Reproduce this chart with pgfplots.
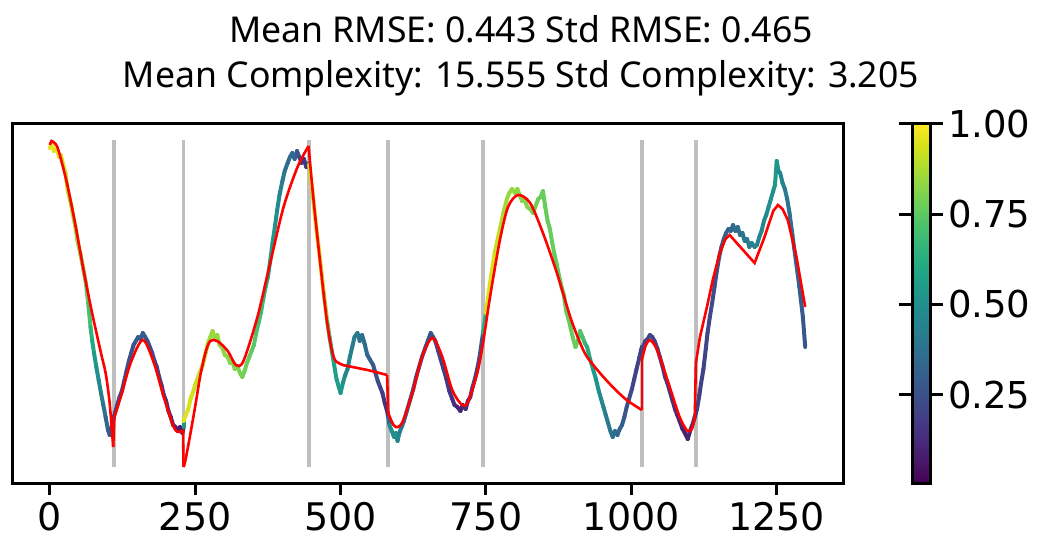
\documentclass[border=0pt]{standalone}
\usepackage{fontspec}
\setmainfont{DejaVu Sans}
\newfontfamily\titlefont{Noto Sans}
\usepackage{pgfplots}
\usepackage{pgfplotstable}
\pgfplotsset{compat=1.18}
\pgfplotsset{/pgf/number format/assume math mode=true}

% signal: x, y, colour value
\pgfplotstableread{
x y c
0 335 0.95
4 338 0.96
7 332 0.97
12 334 0.95
16 326 0.96
19 328 0.94
23 318 0.93
27 310 0.92
31 292 0.90
36 280 0.89
40 268 0.87
44 256 0.86
48 241 0.85
53 228 0.83
57 216 0.81
62 200 0.78
66 180 0.74
70 156 0.68
73 142 0.62
76 130 0.58
80 116 0.52
84 103 0.48
88 90 0.44
92 78 0.40
96 66 0.35
100 53 0.32
103 48 0.30
105 54 0.26
108 60 0.22
110 66 0.22
112 70 0.22
116 78 0.20
120 86 0.22
124 92 0.20
128 102 0.24
132 112 0.22
136 122 0.26
140 130 0.24
144 138 0.28
148 142 0.26
152 146 0.30
156 144 0.28
160 150 0.30
164 146 0.28
168 142 0.26
172 136 0.24
176 130 0.24
180 122 0.22
184 116 0.20
188 106 0.20
192 98 0.18
196 88 0.18
200 82 0.15
204 72 0.15
208 66 0.12
212 58 0.12
216 56 0.10
220 52 0.10
224 56 0.08
228 50 0.08
230 56 0.10
230 62 0.95
234 68 0.96
238 74 0.95
242 84 0.94
247 92 0.93
251 100 0.92
255 106 0.92
259 112 0.91
263 118 0.90
268 130 0.89
272 140 0.87
276 146 0.86
280 152 0.85
284 144 0.85
288 148 0.84
292 138 0.84
296 136 0.84
301 128 0.83
306 126 0.83
310 120 0.82
314 122 0.82
318 114 0.81
323 116 0.81
327 110 0.80
331 106 0.80
335 112 0.79
339 120 0.78
343 126 0.77
347 132 0.76
351 138 0.75
355 150 0.73
359 160 0.71
363 170 0.69
367 184 0.66
371 196 0.63
375 206 0.60
379 222 0.57
383 240 0.55
387 256 0.52
391 273 0.50
395 288 0.46
400 302 0.42
404 312 0.39
409 320 0.36
413 326 0.34
417 330 0.36
421 324 0.32
425 332 0.30
429 326 0.24
433 320 0.20
437 324 0.16
441 316 0.14
446 320 0.15
446 318 0.92
452 290 0.93
458 256 0.93
465 222 0.93
471 190 0.90
477 162 0.80
481 146 0.68
485 132 0.62
489 118 0.58
493 104 0.56
497 96 0.55
500 90 0.55
504 100 0.52
508 108 0.48
512 114 0.46
516 126 0.44
520 136 0.42
524 146 0.42
529 150 0.40
533 142 0.40
537 148 0.38
541 140 0.36
546 128 0.34
550 124 0.32
556 118 0.30
560 110 0.27
564 102 0.24
568 96 0.22
572 90 0.18
576 80 0.15
580 72 0.14
582 66 0.15
584 58 0.48
588 52 0.50
592 46 0.50
595 50 0.52
598 42 0.48
601 50 0.45
605 56 0.40
609 62 0.36
614 72 0.32
619 82 0.30
625 94 0.28
630 106 0.26
635 116 0.25
640 126 0.26
645 134 0.24
650 142 0.26
655 150 0.28
659 146 0.25
663 142 0.24
668 132 0.22
672 124 0.20
677 114 0.20
682 104 0.18
687 92 0.16
692 84 0.15
696 78 0.14
701 76 0.12
706 72 0.10
710 78 0.12
715 74 0.12
719 82 0.14
723 86 0.15
727 96 0.18
731 104 0.20
735 114 0.22
739 126 0.24
743 142 0.28
745 150 0.30
750 170 0.94
757 200 0.95
765 230 0.93
774 254 0.90
780 270 0.87
786 284 0.85
790 290 0.85
795 294 0.84
800 290 0.84
804 294 0.83
808 288 0.83
812 282 0.83
816 284 0.82
821 276 0.82
826 274 0.81
831 270 0.80
836 278 0.79
840 284 0.78
844 286 0.78
848 292 0.77
852 276 0.77
856 262 0.77
860 254 0.77
864 240 0.77
868 228 0.77
872 218 0.76
876 206 0.76
880 196 0.76
884 188 0.76
888 172 0.76
892 164 0.77
896 154 0.76
900 144 0.77
904 136 0.78
908 142 0.76
912 152 0.74
916 146 0.72
920 140 0.68
924 136 0.64
929 124 0.60
934 114 0.56
939 104 0.52
944 92 0.50
948 84 0.48
952 76 0.46
956 68 0.43
960 60 0.41
964 52 0.40
968 46 0.38
972 52 0.36
976 48 0.35
980 54 0.32
984 58 0.30
988 66 0.28
992 76 0.26
996 84 0.24
1001 94 0.22
1005 104 0.20
1009 114 0.20
1014 126 0.20
1018 136 0.20
1020 136 0.20
1024 142 0.22
1028 144 0.20
1032 148 0.22
1036 146 0.22
1040 142 0.20
1045 134 0.20
1049 126 0.20
1054 116 0.18
1058 106 0.18
1062 100 0.16
1066 92 0.15
1071 82 0.15
1075 74 0.14
1079 68 0.12
1083 62 0.12
1088 54 0.10
1092 50 0.10
1097 44 0.10
1101 52 0.12
1106 60 0.12
1109 66 0.14
1111 70 0.15
1113 74 0.20
1117 88 0.20
1120 100 0.20
1124 114 0.20
1128 134 0.21
1131 150 0.22
1135 166 0.22
1139 180 0.23
1143 196 0.24
1147 212 0.25
1151 226 0.26
1155 236 0.28
1159 244 0.30
1163 250 0.30
1167 254 0.32
1171 252 0.33
1175 258 0.34
1179 252 0.36
1183 256 0.35
1187 248 0.38
1191 250 0.37
1195 242 0.40
1199 244 0.41
1203 236 0.42
1207 240 0.43
1212 236 0.44
1216 238 0.45
1220 246 0.45
1224 252 0.46
1228 262 0.47
1232 268 0.48
1236 276 0.49
1240 284 0.50
1244 292 0.51
1247 298 0.52
1250 322 0.55
1253 312 0.50
1256 310 0.48
1260 300 0.45
1264 294 0.42
1268 284 0.40
1272 270 0.38
1277 248 0.35
1283 222 0.32
1289 196 0.30
1295 166 0.28
1299 136 0.27
}\signal

\begin{document}
\begin{tikzpicture}
\begin{axis}[
  at={(0,0)}, anchor=south west,
  scale only axis, width=415.5pt, height=179.5pt,
  xmin=-65, xmax=1364, ymin=0, ymax=359,
  xtick={0,250,500,750,1000,1250}, ytick=\empty,
  xticklabel style={/pgf/number format/set thousands separator={}, font=\fontsize{19}{22}\selectfont},
  xtick pos=bottom, tick align=outside, major tick length=6pt,
  tick style={black, line width=1.5pt},
  axis line style={line width=1.5pt},
  colormap/viridis, colorbar,
  point meta min=0.005, point meta max=1,
  colorbar style={
    at={(parent axis.north east)}, anchor=north west, xshift=26pt,
    width=9pt,
    ytick={0.25,0.5,0.75,1},
    yticklabel style={/pgf/number format/fixed, /pgf/number format/fixed zerofill,
      /pgf/number format/precision=2, font=\fontsize{18.5}{21}\selectfont, xshift=-1pt},
    axis line style={line width=1.5pt},
    tick style={black, line width=1.5pt}, major tick length=6.5pt, tick align=outside,
  },
]
% segment boundaries
\addplot[gray!50, line width=1.8pt] coordinates {(110,16) (110,343)};
\addplot[gray!50, line width=1.8pt] coordinates {(230,16) (230,343)};
\addplot[gray!50, line width=1.8pt] coordinates {(446,16) (446,343)};
\addplot[gray!50, line width=1.8pt] coordinates {(582,16) (582,343)};
\addplot[gray!50, line width=1.8pt] coordinates {(745,16) (745,343)};
\addplot[gray!50, line width=1.8pt] coordinates {(1018,16) (1018,343)};
\addplot[gray!50, line width=1.8pt] coordinates {(1111,16) (1111,343)};

% signal coloured by value
\addplot[mesh, point meta=explicit, line width=2pt, line cap=round, line join=round]
  table[x=x, y=y, meta=c] {\signal};

% fitted model
\addplot[red, line width=1.3pt, smooth, tension=0.5] coordinates {
  (0,338) (3,342) (8,340) (13,336) (20,322) (31,296) (45,255) (58,213) (72,172)
  (88,130) (96,110) (102,85) (105,66) (109,36)};
\addplot[red, line width=1.3pt] coordinates {(109,36) (111,66)};
\addplot[red, line width=1.3pt, smooth, tension=0.5] coordinates {
  (111,66) (122,86) (139,120) (160,143) (179,120) (196,86) (213,56) (222,51) (229,53)};
\addplot[red, line width=1.3pt] coordinates {(229,53) (230,16)};
\addplot[red, line width=1.3pt, smooth, tension=0.5] coordinates {
  (230,16) (233,22) (242,50) (251,80) (259,108) (268,131) (276,142) (288,142) (306,132)
  (320,118) (333,122) (357,166) (379,220) (402,276) (426,316) (445,337)};
\addplot[red, line width=1.3pt, smooth, tension=0.5] coordinates {
  (445,337) (453,286) (465,220) (477,160) (488,126) (500,119) (512,117) (546,113) (580,108)};
\addplot[red, line width=1.3pt] coordinates {(580,108) (582,70)};
\addplot[red, line width=1.3pt, smooth, tension=0.5] coordinates {
  (582,70) (591,58) (599,56) (608,63) (625,93) (640,126) (658,145) (675,126) (692,93)
  (709,78) (719,81) (735,110) (745,140) (757,186) (774,243) (788,276) (805,288) (826,280)
  (848,250) (872,210) (895,166) (912,140) (924,126) (946,110) (968,96) (992,83) (1018,73)};
\addplot[red, line width=1.3pt] coordinates {(1018,73) (1018,123)};
\addplot[red, line width=1.3pt, smooth, tension=0.5] coordinates {
  (1018,123) (1025,138) (1032,143) (1040,138) (1049,126) (1066,96) (1083,66) (1095,53)
  (1100,52) (1104,54) (1109,64)};
\addplot[red, line width=1.3pt] coordinates {(1109,64) (1111,120)};
\addplot[red, line width=1.3pt] coordinates {
  (1111,120) (1118,146) (1130,176) (1140,203) (1152,230) (1162,244) (1169,248) (1212,220)
  (1229,246) (1244,272) (1252,278) (1260,274) (1269,263) (1284,226) (1299,176)};
\end{axis}
\node[font=\titlefont\fontsize{17.8}{21}\selectfont, anchor=base] at (254.5pt,220pt)
  {Mean RMSE: 0.443 Std RMSE: 0.465};
\node[font=\titlefont\fontsize{17.8}{21}\selectfont, anchor=base] at (254.5pt,197.5pt)
  {Mean Complexity: 15.555 Std Complexity: 3.205};
\pgfresetboundingbox
\path[use as bounding box] (-6pt,-31.5pt) rectangle (512.5pt,241.5pt);
\end{tikzpicture}
\end{document}
